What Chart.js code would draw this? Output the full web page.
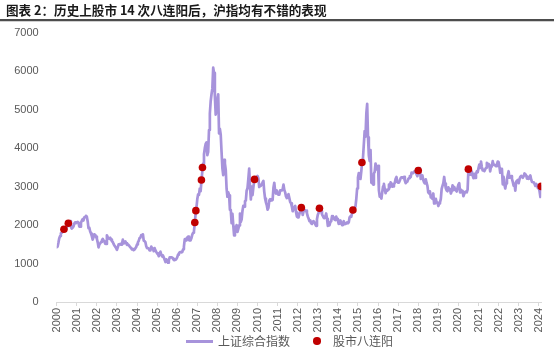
<!DOCTYPE html>
<html>
<head>
<meta charset="utf-8">
<script src="https://cdn.jsdelivr.net/npm/chart.js@4.4.1/dist/chart.umd.min.js"></script>
<style>
  html, body { margin: 0; padding: 0; background: #fff; }
  body { width: 554px; height: 354px; position: relative; overflow: hidden; font-family: "Noto Sans CJK SC", sans-serif; }
  #title { position: absolute; z-index: 5; left: 6px; top: 1px; font-size: 12.6px; line-height: 18px; font-weight: bold; color: #1a1a1a; white-space: nowrap; }
  #chartBox { position: absolute; z-index: 1; left: 0; top: 0; width: 554px; height: 354px; }
  .legLine { position: absolute; z-index: 5; left: 186px; top: 339.5px; width: 27px; height: 3px; background: #A793DB; }
  .legDot { position: absolute; z-index: 5; left: 313px; top: 337.3px; width: 7.5px; height: 7.5px; border-radius: 50%; background: #C00000; }
  .legText { position: absolute; z-index: 5; top: 332px; font-size: 12px; line-height: 18px; color: #595959; white-space: nowrap; }
</style>
</head>
<body>
<div id="chartBox"><canvas id="c" width="554" height="354"></canvas></div>
<div id="title">图表 2：历史上股市 14 次八连阳后，沪指均有不错的表现</div>
<div class="legLine"></div><div class="legText" style="left:218px">上证综合指数</div>
<div class="legDot"></div><div class="legText" style="left:333px">股市八连阳</div>
<script>
// Shanghai Composite, sampled twice a month (1st and 15th), starting 2000-01-01
const sseStart = 2000;
const samplesPerYear = 24;
const sseValues = [
  1420,1440,1535,1650,1714,1790,1800,1820,1836,1880,1894,1900,1928,2010,2045,2080,2101,1950,1910,1930,1961,2040,2070,2050, // 2000
  2073,2080,2065,1960,1959,2060,2112,2150,2119,2200,2214,2240,2218,2100,1920,1930,1834,1780,1712,1620,1690,1760,1747,1700, // 2001
  1646,1550,1420,1500,1524,1560,1603,1640,1595,1580,1515,1510,1733,1680,1653,1640,1670,1620,1581,1560,1507,1470,1436,1400, // 2002
  1358,1420,1499,1500,1511,1490,1511,1620,1521,1560,1576,1530,1487,1500,1477,1450,1421,1400,1367,1380,1348,1360,1397,1430, // 2003
  1497,1550,1590,1660,1675,1740,1741,1760,1595,1580,1555,1450,1399,1400,1386,1340,1342,1440,1396,1380,1320,1400,1341,1300, // 2004
  1266,1240,1191,1270,1306,1230,1181,1210,1159,1100,1040,1110,1080,1020,1083,1160,1162,1160,1155,1120,1092,1090,1099,1120, // 2005
  1161,1230,1258,1290,1299,1290,1298,1370,1440,1630,1641,1600,1672,1700,1612,1600,1601,1660,1752,1800,1837,2050,2300,2450, // 2006
  2675,2800,2786,2950,2881,3150,3400,3600,3841,4000,4109,4150,3820,3900,4471,4900,5218,5400,5552,6090,5954,5350,4871,5000, // 2007
  5262,5400,4383,4500,4348,3900,3473,3300,3693,3600,3433,2950,2736,2850,2775,2400,2397,2050,2293,1990,1729,1950,1871,2000, // 2008
  1821,1900,1991,2300,2082,2150,2373,2500,2477,2620,2633,2900,2959,3200,3470,3000,2667,3000,2779,2980,3150,3200,3195,3250, // 2009
  3277,3220,2989,3020,3051,3050,3110,3150,2871,2690,2592,2520,2398,2450,2638,2670,2639,2640,2656,2970,3100,2890,2820,2900, // 2010
  2808,2790,2791,2900,2905,2900,2928,3050,2911,2850,2743,2700,2762,2800,2701,2600,2567,2480,2359,2430,2468,2500,2333,2220, // 2011
  2199,2200,2292,2360,2450,2400,2263,2360,2397,2380,2373,2310,2225,2170,2103,2120,2047,2030,2086,2100,2069,2020,1980,2150, // 2012
  2269,2320,2430,2430,2366,2280,2237,2190,2178,2220,2301,2160,1979,2040,1994,2080,2098,2230,2175,2200,2141,2130,2220,2160, // 2013
  2116,2030,2033,2120,2056,2000,2033,2100,2026,2030,2039,2070,2048,2070,2202,2230,2217,2320,2390,2370,2420,2480,2683,2950, // 2014
  3235,3350,3210,3200,3400,3650,3750,4100,4441,4300,4900,5150,4277,3800,3664,3950,3100,3100,3053,3340,3383,3600,3445,3500, // 2015
  3539,2900,2738,2750,2688,2860,3004,3070,2938,2830,2917,2890,2930,3050,2979,3110,3085,3000,3005,3060,3100,3200,3250,3120, // 2016
  3104,3110,3159,3220,3242,3240,3223,3250,3155,3090,3117,3130,3192,3220,3273,3250,3361,3360,3349,3390,3393,3400,3317,3270, // 2017
  3400,3450,3481,3200,3259,3290,3169,3110,3082,3190,3095,3020,2847,2820,2876,2720,2725,2680,2821,2560,2603,2680,2588,2590, // 2018
  2494,2560,2585,2680,2941,3020,3091,3250,3078,2950,2899,2880,2979,2930,2933,2820,2886,3030,2905,2990,2929,2900,2872,2970, // 2019
  3050,3090,2850,2920,2880,2890,2750,2810,2860,2870,2852,2920,3440,3360,3310,3360,3396,3290,3218,3330,3225,3330,3392,3370, // 2020
  3473,3570,3483,3650,3509,3420,3442,3400,3447,3490,3615,3560,3591,3560,3397,3520,3544,3660,3568,3570,3547,3530,3564,3650, // 2021
  3640,3520,3361,3460,3462,3060,3252,3050,2950,3080,3186,3300,3399,3230,3253,3270,3202,3120,3024,3070,2893,3130,3151,3170, // 2022
  3089,3190,3255,3280,3280,3230,3273,3340,3323,3290,3205,3250,3202,3240,3291,3180,3120,3120,3110,3070,3018,3070,3030,2960, // 2023
  2975,2880,2730,3005 // 2024
];

// Eight-day winning streaks (date, index level)
const streakDates = ["2000-05-12","2000-07-31","2006-11-17","2006-12-06","2007-03-17","2007-04-05","2009-11-07",
                     "2012-03-07","2013-01-31","2014-10-01","2015-03-14","2018-01-01","2020-07-01","2024-02-15"];
const streakValues = [1891,2047,2065,2375,3170,3497,3187,2453,2435,2392,3627,3420,3453,3005];

const yearTicks = ["2000","2001","2002","2003","2004","2005","2006","2007","2008","2009","2010","2011","2012",
                   "2013","2014","2015","2016","2017","2018","2019","2020","2021","2022","2023","2024"];
const yTicks = [0,1000,2000,3000,4000,5000,6000,7000];

function toYear(s) {
  const [y, m, d] = s.split("-").map(Number);
  const t0 = Date.UTC(y, 0, 1), t1 = Date.UTC(y + 1, 0, 1);
  return y + (Date.UTC(y, m - 1, d) - t0) / (t1 - t0);
}

const linePts = sseValues.map((v, i) => ({ x: sseStart + i / samplesPerYear, y: v }));
const dotPts = streakDates.map((d, i) => ({ x: toYear(d), y: streakValues[i] }));
const xMax = linePts[linePts.length - 1].x;

const tickFont = { family: "'Liberation Sans', Arial, sans-serif", size: 11 };

// rule under the title, drawn on the canvas
const titleRule = {
  id: "titleRule",
  afterDraw(chart) {
    const c = chart.ctx;
    c.save();
    c.fillStyle = "#4d4d4d";
    c.fillRect(0, 19, chart.width, 2);
    c.fillStyle = "#d0d0d0";
    c.fillRect(0, 21, chart.width, 1);
    c.restore();
  }
};

new Chart(document.getElementById("c"), {
  type: "scatter",
  plugins: [titleRule],
  data: {
    datasets: [
      { label: "股市八连阳", data: dotPts, backgroundColor: "#C00000", borderColor: "#C00000",
        pointRadius: 3.8, pointHoverRadius: 3.8, borderWidth: 0 },
      { label: "上证综合指数", data: linePts, showLine: true, borderColor: "#A793DB", borderWidth: 2.7,
        borderJoinStyle: "round", borderCapStyle: "round",
        pointRadius: 0, pointHoverRadius: 0, tension: 0, fill: false }
    ]
  },
  options: {
    responsive: false,
    animation: false,
    devicePixelRatio: 1,
    layout: { padding: { left: 0, right: 554 - 541.8, top: 32.7, bottom: 0 } },
    plugins: { legend: { display: false }, tooltip: { enabled: false }, title: { display: false } },
    scales: {
      x: {
        type: "linear",
        min: Number(yearTicks[0]),
        max: xMax,
        afterFit(s) { s.height = 52; },
        afterBuildTicks(s) { s.ticks = yearTicks.map(t => ({ value: Number(t) })); },
        ticks: { autoSkip: false, maxRotation: 90, minRotation: 90, padding: 2, color: "#595959",
                 font: tickFont, callback: v => String(v) },
        grid: { drawOnChartArea: false, drawTicks: true, tickLength: 4, color: "#d9d9d9", lineWidth: 1 },
        border: { display: true, color: "#d9d9d9", width: 1 }
      },
      y: {
        min: yTicks[0],
        max: yTicks[yTicks.length - 1],
        afterFit(s) { s.width = 56.7; },
        afterBuildTicks(s) { s.ticks = yTicks.map(v => ({ value: v })); },
        ticks: { padding: 10, color: "#595959", font: tickFont, callback: v => String(v) },
        grid: { display: false },
        border: { display: false }
      }
    }
  }
});
</script>
</body>
</html>
